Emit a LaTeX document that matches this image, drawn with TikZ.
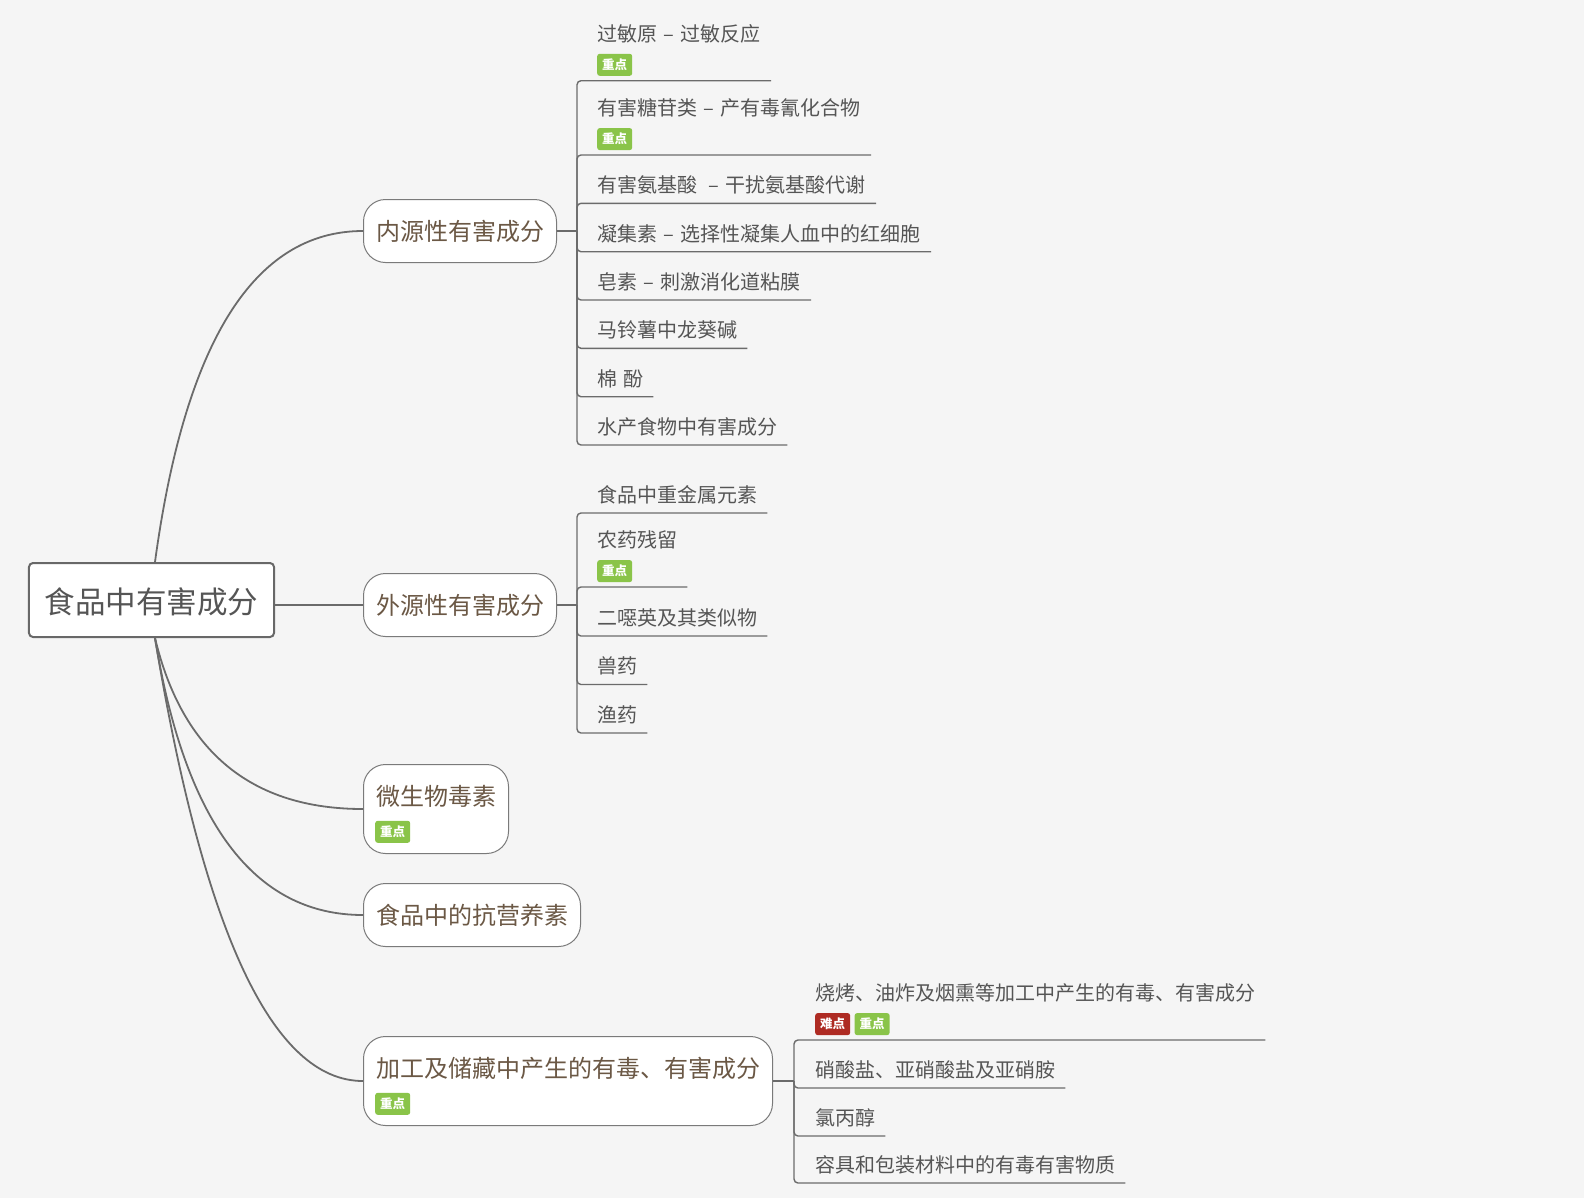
\documentclass[tikz,border=0pt]{standalone}
\usepackage{fontspec}
\setmainfont{Noto Sans CJK SC}
\usetikzlibrary{calc}
\definecolor{bgc}{HTML}{F5F5F5}
\definecolor{linec}{HTML}{6B6B6B}
\definecolor{rootc}{HTML}{686868}
\definecolor{midborder}{HTML}{7A7A7A}
\definecolor{leafc}{HTML}{555555}
\definecolor{midtext}{HTML}{6B5845}
\definecolor{greenb}{HTML}{8AC449}
\definecolor{redb}{HTML}{AE2B23}
\newcommand\dsh{\hspace{6.5bp}–\hspace{6.5bp}}
\begin{document}
\begin{tikzpicture}[x=1bp,y=-1bp,
  curve/.style={draw=linec, line width=1.8bp},
  brk/.style={draw=linec, line width=1.4bp, rounded corners=4bp},
  rootbox/.style={draw=rootc, line width=2bp, fill=white, rounded corners=4bp, inner sep=0pt, minimum width=245bp, text height=50.6bp, text depth=23.4bp, font=\fontsize{30.5bp}{36bp}\selectfont, text=leafc},
  topic/.style={draw=midborder, line width=1bp, fill=white, rounded corners=22bp, inner xsep=12.5bp, inner ysep=0pt, text height=40.6bp, text depth=22.4bp, font=\fontsize{24bp}{28bp}\selectfont, text=midtext, anchor=north west},
  topicb/.style={topic, text height=41.1bp, text depth=47.9bp},
  leaf/.style={inner xsep=10bp, inner ysep=0pt, text height=14bp, text depth=10.4bp, font=\fontsize{20bp}{24bp}\selectfont, text=leafc, anchor=south west},
  leafb/.style={leaf, text depth=39.4bp},
  badge/.style={fill=greenb, rounded corners=2.5bp, inner sep=0pt, minimum width=35bp, minimum height=22bp, text=white, font=\fontsize{12.5bp}{14bp}\selectfont\bfseries, anchor=south west},
  badgered/.style={badge, fill=redb}
]
\fill[bgc] (0,0) rectangle (1584,1198);
\useasboundingbox (0,0) rectangle (1584,1198);

% root
\node[rootbox] (root) at (151.5,600) {食品中有害成分};
\coordinate (rt) at ($(root.north)+(3.5,0)$);
\coordinate (rb) at ($(root.south)+(3.5,0)$);

% main topics
\node[topic] (A) at (363,199) {内源性有害成分};
\node[topic] (B) at (363,573) {外源性有害成分};
\node[topicb] (C) at (363,764) {微生物毒素};
\node[badge] (Cb) at ($(C.south west)+(12,-11)$) {重点};
\node[topic] (D) at (363,883) {食品中的抗营养素};
\node[topicb] (E) at (363,1036) {加工及储藏中产生的有毒、有害成分};
\node[badge] (Eb) at ($(E.south west)+(12,-11)$) {重点};

% root connectors
\coordinate (qA) at ($(A.west)+(-163,0)$);
\coordinate (qC) at ($(C.west)+(-167,0)$);
\coordinate (qD) at ($(D.west)+(-163,0)$);
\coordinate (qE) at ($(E.west)+(-135,0)$);
\draw[curve] (rt) .. controls ($(rt)!0.6667!(qA)$) and ($(A.west)!0.6667!(qA)$) .. (A.west);
\draw[curve] (root.east |- B.west) -- (B.west);
\draw[curve] (rb) .. controls ($(rb)!0.6667!(qC)$) and ($(C.west)!0.6667!(qC)$) .. (C.west);
\draw[curve] (rb) .. controls ($(rb)!0.6667!(qD)$) and ($(D.west)!0.6667!(qD)$) .. (D.west);
\draw[curve] (rb) .. controls ($(rb)!0.6667!(qE)$) and ($(E.west)!0.6667!(qE)$) .. (E.west);

% leaves of A
\coordinate (ja) at ($(A.east)+(20,0)$);
\draw[brk] (A.east) -- (ja);
\node[leafb] (a1) at (587,80.7) {过敏原\dsh 过敏反应};
\node[badge] (a1b) at ($(a1.south west)+(10,-4.7)$) {重点};
\node[leafb] (a2) at (587,155) {有害糖苷类\dsh 产有毒氰化合物};
\node[badge] (a2b) at ($(a2.south west)+(10,-4.7)$) {重点};
\node[leaf] (a3) at (587,203.3) {有害氨基酸\hspace{5bp}\dsh 干扰氨基酸代谢};
\node[leaf] (a4) at (587,251.7) {凝集素\dsh 选择性凝集人血中的红细胞};
\node[leaf] (a5) at (587,300) {皂素\dsh 刺激消化道粘膜};
\node[leaf] (a6) at (587,348.3) {马铃薯中龙葵碱};
\node[leaf] (a7) at (587,396.7) {棉\hspace{6bp}酚};
\node[leaf] (a8) at (587,445) {水产食物中有害成分};
\foreach \n in {a1,a2,a3,a4,a5,a6,a7,a8}
  \draw[brk] (ja) |- (\n.south west) -- (\n.south east);

% leaves of B
\coordinate (jb) at ($(B.east)+(20,0)$);
\draw[brk] (B.east) -- (jb);
\node[leaf] (b1) at (587,513) {食品中重金属元素};
\node[leafb] (b2) at (587,587) {农药残留};
\node[badge] (b2b) at ($(b2.south west)+(10,-4.7)$) {重点};
\node[leaf] (b3) at (587,636) {二噁英及其类似物};
\node[leaf] (b4) at (587,684.5) {兽药};
\node[leaf] (b5) at (587,733) {渔药};
\foreach \n in {b1,b2,b3,b4,b5}
  \draw[brk] (jb) |- (\n.south west) -- (\n.south east);

% leaves of E
\coordinate (je) at ($(E.east)+(21,0)$);
\draw[brk] (E.east) -- (je);
\node[leafb] (e1) at (805,1040) {烧烤、油炸及烟熏等加工中产生的有毒、有害成分};
\node[badgered] (e1r) at ($(e1.south west)+(10,-4.7)$) {难点};
\node[badge] (e1g) at ($(e1r.south east)+(4,0)$) {重点};
\node[leaf] (e2) at (805,1088) {硝酸盐、亚硝酸盐及亚硝胺};
\node[leaf] (e3) at (805,1136) {氯丙醇};
\node[leaf] (e4) at (805,1183) {容具和包装材料中的有毒有害物质};
\foreach \n in {e1,e2,e3,e4}
  \draw[brk] (je) |- (\n.south west) -- (\n.south east);
\end{tikzpicture}
\end{document}
